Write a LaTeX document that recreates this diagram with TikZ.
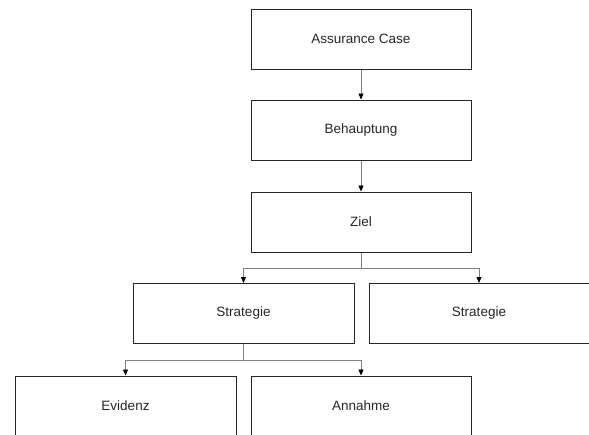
\documentclass[tikz,border=0pt]{standalone}
\usepackage{fontspec}
\setmainfont{Liberation Sans}
\usetikzlibrary{arrows.meta}
\begin{document}
\begin{tikzpicture}[x=1pt,y=1pt,
  box/.style={draw=black!85,line width=1pt,minimum width=220pt,minimum height=60pt,inner sep=0pt,font=\fontsize{13.5}{15}\selectfont,text=black!85},
  conn/.style={draw=black!50,line width=0.8pt},
  arr/.style={conn,-{Triangle[length=6pt,width=5pt,color=black]}}]
\useasboundingbox (0,0) rectangle (589,-434);
\node[box] (ac) at (361,-39) {Assurance Case};
\node[box] (beh) at (361,-130) {Behauptung};
\node[box] (ziel) at (361,-222) {Ziel};
\node[box,minimum width=221pt] (s1) at (243.5,-313.5) {Strategie};
\node[box] (s2) at (479,-313.5) {Strategie};
\node[box,minimum width=221pt] (ev) at (125.5,-406) {Evidenz};
\node[box] (an) at (361,-406) {Annahme};
\coordinate (j1) at (361,-268);
\coordinate (j2) at (243.5,-360);
\draw[arr] (ac.south) -- (beh.north);
\draw[arr] (beh.south) -- (ziel.north);
\draw[conn] (ziel.south) -- (j1);
\draw[arr] (j1) -| (s1.north);
\draw[arr] (j1) -| (s2.north);
\draw[conn] (s1.south) -- (j2);
\draw[arr] (j2) -| (ev.north);
\draw[arr] (j2) -| (an.north);
\end{tikzpicture}
\end{document}
